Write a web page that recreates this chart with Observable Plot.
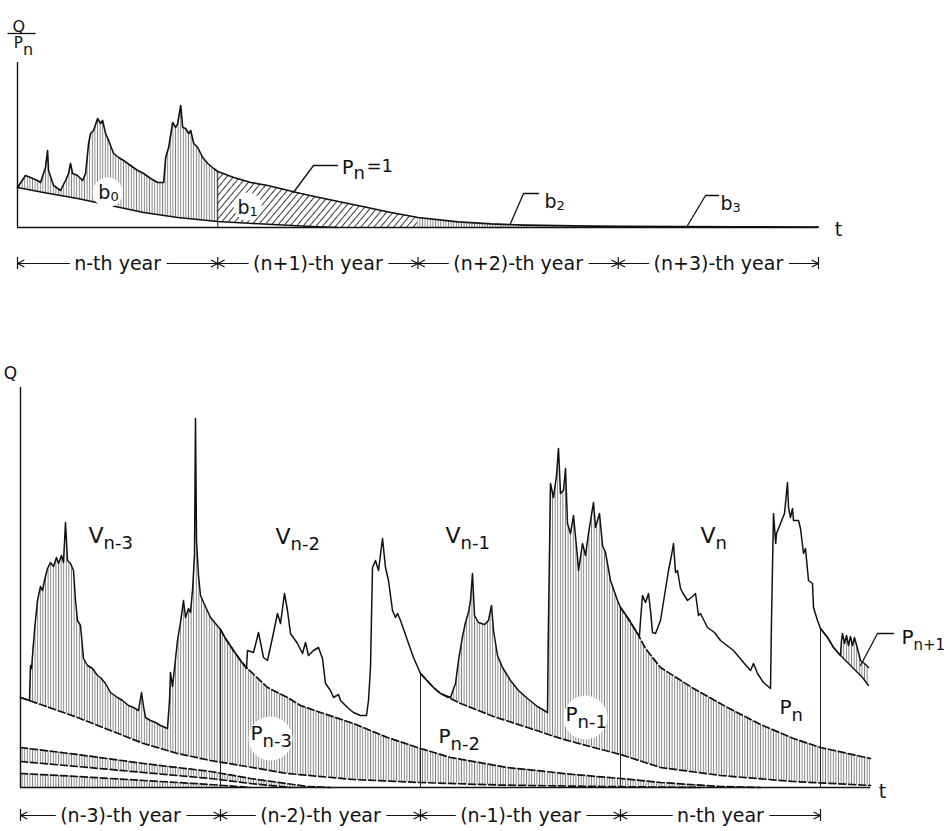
<!DOCTYPE html>
<html>
<head>
<meta charset="utf-8">
<script src="https://cdn.jsdelivr.net/npm/d3@7"></script>
<script src="https://cdn.jsdelivr.net/npm/@observablehq/plot@0.6"></script>
<style>
  body { margin: 0; background: #fff; }
  #chart { width: 946px; }
  #chart svg { display: block; }
</style>
</head>
<body>
<!-- hatch patterns shared by both panels -->
<svg width="0" height="0" style="position:absolute">
  <defs>
    <pattern id="vhatch" patternUnits="userSpaceOnUse" width="2.6" height="8">
      <rect width="2.6" height="8" fill="#fff"/>
      <line x1="1.3" y1="0" x2="1.3" y2="8" stroke="#808080" stroke-width="0.95"/>
    </pattern>
    <pattern id="dhatch" patternUnits="userSpaceOnUse" width="5" height="5" patternTransform="rotate(40)">
      <rect width="5" height="5" fill="#fff"/>
      <line x1="2.5" y1="0" x2="2.5" y2="5" stroke="#3a3a3a" stroke-width="1"/>
    </pattern>
  </defs>
</svg>
<div id="chart"></div>
<script>
// ---------- Upper panel: response Q/Pn to one year's precipitation (t in years, [t, value]) ----------
const unitHydroN = [
  [0,20],[0.04,26],[0.065,25],[0.10,23.5],[0.115,22.5],[0.14,30],[0.15,38.5],[0.155,28.5],[0.18,21],
  [0.215,18.5],[0.24,23.5],[0.255,27],[0.265,32],[0.275,27],[0.30,26],[0.325,23.5],[0.34,27],[0.355,42],
  [0.365,47],[0.38,48.5],[0.40,54.5],[0.415,52],[0.425,53.5],[0.44,47],[0.455,43.5],[0.48,37],[0.505,35],
  [0.53,33.5],[0.565,31],[0.60,28.5],[0.63,27],[0.665,24.5],[0.70,22.5],[0.73,22.5],[0.74,35],[0.755,40],
  [0.775,52.5],[0.79,50],[0.80,52],[0.815,61],[0.825,50],[0.84,49.5],[0.855,47],[0.865,48.5],[0.88,42],
  [0.90,40],[0.925,35],[0.95,32],[0.98,29.5],[1.0,28]
];
const unitRecession = [
  [1.0,28],[1.08,25],[1.165,22.5],[1.25,21],[1.415,17],[1.53,14.5],[1.70,11],[1.865,7.5],[2.0,5],
  [2.2,2.8],[2.365,1.8],[2.53,1.2],[2.865,0.7],[3.0,0.6],[3.3,0.45],[3.6,0.35],[4.0,0.25]
];
const unitBase = [
  [0,20],[0.13,17.5],[0.30,14.5],[0.465,11],[0.63,7.5],[0.80,5],[1.0,3],[1.175,2],[1.465,0.5],[1.6,0]
];
const upperYearNames = ["n-th year", "(n+1)-th year", "(n+2)-th year", "(n+3)-th year"];

// ---------- Lower panel: observed flow Q built from successive years ----------
const yearNm3 = [
  [0,22.5],[0.045,21.75],[0.05,30.5],[0.055,29.75],[0.07,39.25],[0.085,46.75],[0.10,50.25],[0.11,49.25],
  [0.12,51.75],[0.135,54.75],[0.15,56.25],[0.165,55.25],[0.18,57.5],[0.19,56],[0.205,58],[0.215,56.25],
  [0.225,66.25],[0.235,56.75],[0.25,56],[0.265,54.25],[0.275,46.75],[0.285,41.75],[0.30,40.5],[0.315,32.25],
  [0.335,30.5],[0.36,29.75],[0.385,28],[0.40,27.5],[0.425,26],[0.45,23.75],[0.485,22.5],[0.51,21.75],
  [0.54,20.5],[0.565,20],[0.59,19.25],[0.605,23.75],[0.615,20.25],[0.625,17.5],[0.65,16.75],[0.675,16.25],
  [0.70,15.5],[0.735,14.75],[0.745,21.75],[0.75,28.75],[0.76,25.25],[0.77,29.75],[0.785,36.75],[0.80,41.25],
  [0.815,46.75],[0.825,42.5],[0.84,44.75],[0.85,43.75],[0.86,49.25],[0.87,58],[0.875,92.25],[0.88,61.75],
  [0.89,53],[0.90,48],[0.92,45.75],[0.95,42.5],[1.0,39.5]
];
const recNm3 = [
  [1.0,39.5],[1.025,37.25],[1.065,34.25],[1.10,31.75],[1.135,29.75],[1.235,25],[1.335,22.5],[1.40,20.5],
  [1.50,18.75],[1.665,16],[1.835,12.5],[2.0,9.75],[2.15,7.5],[2.435,5],[2.765,3.25],[3.0,2.25],[3.2,1.25],
  [3.5,0.25],[3.7,0]
];
const yearNm2 = [
  [1.0,39.5],[1.025,37.25],[1.065,34.25],[1.10,31.75],[1.13,29.75],[1.135,34.25],[1.165,33.75],[1.19,38.75],
  [1.215,32.5],[1.235,31.75],[1.26,37.5],[1.285,43.5],[1.30,41],[1.32,48.5],[1.335,44.25],[1.35,38.5],
  [1.385,36],[1.41,33.5],[1.425,36.25],[1.44,33],[1.465,34.25],[1.49,35],[1.51,32.25],[1.525,26],
  [1.55,24.25],[1.565,22.5],[1.59,23.25],[1.60,21.75],[1.635,20],[1.665,18.75],[1.70,18],[1.73,18],
  [1.74,21.75],[1.75,30],[1.76,55],[1.775,56.75],[1.79,54.25],[1.81,62.25],[1.825,55],[1.84,51.75],
  [1.86,44.25],[1.875,42.5],[1.885,43.5],[1.90,41.75],[1.935,36.75],[1.965,32.5],[2.0,28.5]
];
const recNm2 = [
  [2.0,28.5],[2.065,25],[2.10,23.5],[2.20,21],[2.365,17.75],[2.535,15],[2.70,12.25],[2.865,10],
  [3.0,8.25],[3.2,5],[3.5,3],[3.865,1.5],[4.25,0.5]
];
const yearNm1 = [
  [2.0,28.5],[2.065,25],[2.10,23.5],[2.15,22.5],[2.175,26],[2.19,31.75],[2.21,37.75],[2.225,41.25],
  [2.24,43.75],[2.25,46.75],[2.26,53.5],[2.27,43],[2.29,41.25],[2.32,40.75],[2.34,41.75],[2.355,45.5],
  [2.365,39.25],[2.385,33],[2.41,30],[2.45,26.75],[2.49,24.25],[2.535,22.25],[2.585,20.25],[2.635,18.75],
  [2.64,41.75],[2.65,76],[2.665,72.5],[2.68,78],[2.69,84.75],[2.70,73.5],[2.715,74.25],[2.725,79.75],
  [2.735,66],[2.75,63.5],[2.765,68],[2.785,57.5],[2.79,54.25],[2.81,61],[2.825,58],[2.84,63.5],
  [2.865,71.25],[2.875,65],[2.895,68.5],[2.91,60.5],[2.925,58.75],[2.95,51.75],[2.985,46.75],[3.0,45]
];
const recNm1 = [
  [3.0,45],[3.035,42.5],[3.085,38.5],[3.125,34.75],[3.20,30],[3.365,24.75],[3.535,20],[3.70,15.75],
  [3.865,12.25],[4.0,10],[4.25,7.25]
];
const yearN = [
  [3.0,45],[3.035,42.5],[3.085,38.5],[3.095,38],[3.10,41.75],[3.11,48],[3.125,46.25],[3.14,48.5],
  [3.15,44.25],[3.16,38.75],[3.175,38.5],[3.20,41.75],[3.22,48],[3.24,54.25],[3.255,58],[3.265,61],
  [3.275,53.75],[3.285,54.25],[3.30,49.75],[3.31,48.75],[3.335,46.75],[3.36,47.75],[3.375,48.5],[3.39,43],
  [3.40,43.5],[3.435,40],[3.47,38.75],[3.50,36.75],[3.565,34.25],[3.615,31.25],[3.65,29.25],[3.665,31],
  [3.685,28.5],[3.715,26.25],[3.75,24.75],[3.755,41.75],[3.765,68.5],[3.776,61],[3.78,63.5],[3.82,68.5],
  [3.835,76.25],[3.84,70],[3.85,67.5],[3.86,69.75],[3.865,66.75],[3.89,66.75],[3.90,64.75],[3.915,58.5],
  [3.925,59.75],[3.94,51.75],[3.96,51],[3.965,45],[3.985,41.75],[4.0,39.75]
];
const recN = [
  [4.0,39.75],[4.035,37.5],[4.065,35],[4.10,33],[4.135,31.25],[4.175,29.25],[4.21,27.5],[4.24,25.5]
];
const yearNp1 = [
  [4.0,39.75],[4.035,37.5],[4.065,35],[4.10,33],[4.105,36.75],[4.11,38.5],[4.12,36],[4.13,38],[4.14,35.5],
  [4.15,37.75],[4.16,35.5],[4.17,37.5],[4.185,34.75],[4.20,31.75],[4.22,31],[4.24,30]
];
// residual recessions of earlier years
const recNm4 = [[0,22.5],[0.115,20.5],[0.285,17.5],[0.45,14.25],[0.615,11],[0.785,8.5],[0.95,6.75],[1.10,5.5],[1.335,3.5],[1.665,2],[2.0,1.25],[2.4,0.6],[2.9,0.25],[3.4,0]];
const recNm5 = [[0,10],[0.285,8.25],[0.615,6],[0.95,4],[1.15,2.25],[1.435,0.25],[1.55,0]];
const recNm6 = [[0,6.5],[0.285,5.25],[0.615,3.75],[0.95,2.25],[1.15,1],[1.35,0]];
const recNm7 = [[0,3.5],[0.285,2.75],[0.615,1.75],[0.95,0.75],[1.15,0]];
const lowerYearNames = ["(n-3)-th year", "(n-2)-th year", "(n-1)-th year", "n-th year"];

// ---------- helpers ----------
const X = d => d[0], Y = d => d[1];
const FONT = "DejaVu Sans, sans-serif";
const HATCH = "url(#vhatch)", DIAG = "url(#dhatch)";
const last = a => a[a.length - 1];

function subLabel(base, sub, t, q, size, subSize, dy) {
  return [
    Plot.text([base], {x: [t], y: [q], text: d => d, textAnchor: "end", fontSize: size, fontFamily: FONT, fill: "#111"}),
    Plot.text([sub], {x: [t], y: [q], text: d => d, textAnchor: "start", fontSize: subSize, dy, fontFamily: FONT, fill: "#111"})
  ];
}
function leader(points) {
  return Plot.line(points, {x: X, y: Y, stroke: "#111", strokeWidth: 1.3});
}
// "|<-- name -->|" span per year: two arrows out from the middle, the name masks the centre
function yearRow(names, y, tick) {
  const spans = names.map((name, i) => ({name, a: i, b: i + 1, m: i + 0.5}));
  return [
    Plot.arrow(spans, {x1: "m", x2: "a", y1: () => y, y2: () => y, stroke: "#111", strokeWidth: 1.2, headLength: 9, headAngle: 55}),
    Plot.arrow(spans, {x1: "m", x2: "b", y1: () => y, y2: () => y, stroke: "#111", strokeWidth: 1.2, headLength: 9, headAngle: 55}),
    Plot.ruleX(d3.range(names.length + 1), {x: d => d, y1: () => y - tick, y2: () => y + tick, stroke: "#111", strokeWidth: 1.2}),
    Plot.text(spans, {x: "m", y: () => y, text: "name", fill: "#111", stroke: "white",
      strokeWidth: 12, paintOrder: "stroke", fontSize: 19, fontFamily: FONT, ariaLabel: "year-name"})
  ];
}

// ---------- upper panel ----------
const upper = Plot.plot({
  width: 946, height: 290,
  marginLeft: 17, marginRight: 128, marginTop: 62, marginBottom: 63,
  x: {domain: [0, 4], axis: null},
  y: {domain: [0, 82.5], axis: null},
  style: {background: "white", overflow: "visible"},
  marks: [
    Plot.areaY(unitHydroN, {x: X, y: Y, fill: HATCH}),
    Plot.areaY(unitRecession.filter(d => d[0] <= 2), {x: X, y: Y, fill: DIAG}),
    Plot.areaY(unitRecession.filter(d => d[0] >= 2), {x: X, y: Y, fill: HATCH}),
    Plot.areaY(unitBase, {x: X, y: Y, fill: "white"}),
    Plot.ruleX([last(unitHydroN)], {x: X, y1: 0, y2: Y, stroke: "#222", strokeWidth: 1}),
    Plot.line(unitBase, {x: X, y: Y, stroke: "#111", strokeWidth: 1.6}),
    Plot.line(unitHydroN.concat(unitRecession.slice(1)), {x: X, y: Y, stroke: "#111", strokeWidth: 1.6}),
    Plot.ruleX([0], {y1: 0, y2: 82.5, stroke: "#111", strokeWidth: 1.4}),
    Plot.ruleY([0], {x1: 0, x2: 4, stroke: "#111", strokeWidth: 1.4}),
    // white clearings behind b0 and b1
    Plot.dot([[0.45, 17.5]], {x: X, y: Y, r: 15, fill: "white"}),
    Plot.dot([[1.15, 10.5]], {x: X, y: Y, r: 14, fill: "white"}),
    ...subLabel("b", "0", 0.464, 17.5, 19, 13, 4),
    ...subLabel("b", "1", 1.159, 10, 19, 13, 4),
    leader([[1.378, 17.5], [1.478, 31], [1.598, 31]]),
    ...subLabel("P", "n", 1.678, 30, 19, 18, 6),
    Plot.text(["=1"], {x: [1.743], y: [30.5], text: d => d, textAnchor: "start", fontSize: 18, fontFamily: FONT, fill: "#111"}),
    leader([[2.462, 2], [2.527, 17], [2.602, 17]]),
    ...subLabel("b", "2", 2.692, 13, 19, 13, 4),
    leader([[3.346, 1], [3.436, 16], [3.501, 16]]),
    ...subLabel("b", "3", 3.571, 12, 19, 13, 4),
    Plot.text(["t"], {x: [4.1], y: [-1], text: d => d, fontSize: 19, fontFamily: FONT, fill: "#111"}),
    // axis title Q / Pn
    Plot.text(["Q"], {x: [0.007], y: [100.5], text: d => d, fontSize: 16, fontFamily: FONT, fill: "#111"}),
    Plot.link([[-0.05, 0.09]], {x1: d => d[0], x2: d => d[1], y1: () => 97, y2: () => 97, stroke: "#111", strokeWidth: 1.3}),
    ...subLabel("P", "n", 0.027, 92, 15, 16, 6),
    ...yearRow(upperYearNames, -18, 3)
  ]
});

// ---------- lower panel ----------
// Each layer reaches from zero up to the flow that includes that year's share;
// painting newest first and alternating hatch/white leaves each year's share as a band.
const join = (a, b) => a.concat(b.slice(1));
const layers = [
  {data: yearNp1, fill: HATCH},
  {data: join(yearN, recN), fill: "white"},
  {data: join(yearNm1, recNm1), fill: HATCH},
  {data: join(yearNm2, recNm2), fill: "white"},
  {data: join(yearNm3, recNm3), fill: HATCH},
  {data: recNm4, fill: "white"},
  {data: recNm5, fill: HATCH},
  {data: recNm6, fill: "white"},
  {data: recNm7, fill: HATCH}
];
const flow = yearNm3.concat(yearNm2.slice(1), yearNm1.slice(1), yearN.slice(1), yearNp1.slice(1));
const yearEnds = [last(yearNm3), last(yearNm2), last(yearNm1), last(yearN)];
const dashed = [recNm3, recNm2, recNm1, recNm4, recNm5, recNm6, recNm7];

const lower = Plot.plot({
  width: 946, height: 541,
  marginLeft: 20, marginRight: 76, marginTop: 97, marginBottom: 44,
  x: {domain: [0, 4.25], axis: null},
  y: {domain: [0, 100], axis: null},
  style: {background: "white", overflow: "visible"},
  marks: [
    ...layers.map(l => Plot.areaY(l.data, {x: X, y: Y, fill: l.fill})),
    ...dashed.map(r => Plot.line(r, {x: X, y: Y, stroke: "#111", strokeWidth: 1.7, strokeDasharray: "7,3"})),
    Plot.line(recN, {x: X, y: Y, stroke: "#111", strokeWidth: 1.4}),
    Plot.ruleX(yearEnds, {x: X, y1: 0, y2: Y, stroke: "#222", strokeWidth: 1}),
    Plot.line(flow, {x: X, y: Y, stroke: "#111", strokeWidth: 1.5}),
    Plot.ruleX([0], {y1: 0, y2: 100, stroke: "#111", strokeWidth: 1.4}),
    Plot.ruleY([0], {x1: 0, x2: 4.25, stroke: "#111", strokeWidth: 1.4}),
    // clearings behind the hatched-band labels
    Plot.dot([[1.25, 12.25], [2.825, 17.5]], {x: X, y: Y, r: 22, fill: "white"}),
    ...subLabel("V", "n-3", 0.415, 63, 22, 18, 8),
    ...subLabel("V", "n-2", 1.35, 62.75, 22, 18, 8),
    ...subLabel("V", "n-1", 2.2, 63, 22, 18, 8),
    ...subLabel("V", "n", 3.475, 63, 22, 18, 8),
    ...subLabel("P", "n-3", 1.21, 13.5, 20, 18, 8),
    ...subLabel("P", "n-2", 2.15, 12.75, 20, 18, 8),
    ...subLabel("P", "n-1", 2.785, 18.25, 20, 18, 8),
    ...subLabel("P", "n", 3.855, 20, 20, 18, 8),
    leader([[4.2, 30.5], [4.285, 38.5], [4.365, 38.5]]),
    ...subLabel("P", "n+1", 4.465, 37.5, 20, 15, 8),
    Plot.text(["Q"], {x: [-0.05], y: [103.5], text: d => d, fontSize: 17, fontFamily: FONT, fill: "#111"}),
    Plot.text(["t"], {x: [4.31], y: [-1], text: d => d, fontSize: 19, fontFamily: FONT, fill: "#111"}),
    ...yearRow(lowerYearNames, -7, 1.5)
  ]
});

const chart = document.getElementById("chart");
chart.append(upper, lower);
d3.selectAll('g[aria-label="year-name"] text').attr("letter-spacing", "0.8px");
</script>
</body>
</html>
